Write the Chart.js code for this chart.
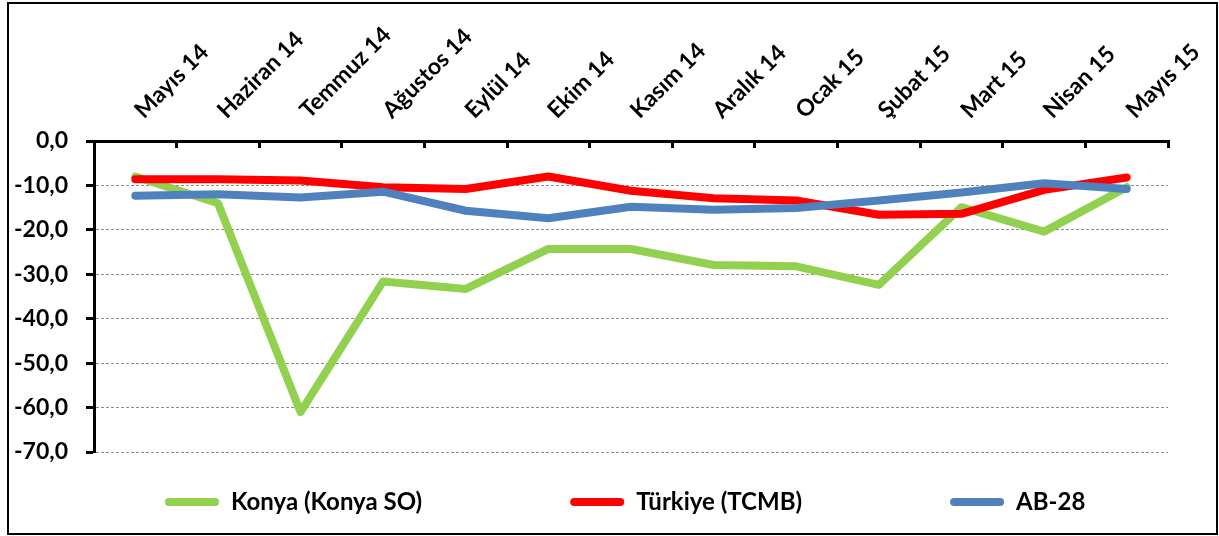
<!DOCTYPE html>
<html>
<head>
<meta charset="utf-8">
<script src="https://cdn.jsdelivr.net/npm/chart.js@4.4.1/dist/chart.umd.min.js"></script>
<style>
  html, body { margin: 0; padding: 0; background: #fff; }
  #wrap { position: relative; width: 1219px; height: 536px; }
  #frame { position: absolute; left: 7px; top: 2px; width: 1211px; height: 533px; border: 2px solid #000; box-sizing: border-box; pointer-events: none; }
  canvas { display: block; }
</style>
</head>
<body>
<div id="wrap">
  <canvas id="c" width="1219" height="536"></canvas>
  <div id="frame"></div>
</div>
<script>
const categories = ['Mayıs 14','Haziran 14','Temmuz 14','Ağustos 14','Eylül 14','Ekim 14','Kasım 14','Aralık 14','Ocak 15','Şubat 15','Mart 15','Nisan 15','Mayıs 15'];
const seriesNames = ['Konya (Konya SO)', 'Türkiye (TCMB)', 'AB-28'];
const konya   = [-8.0, -14.0, -61.0, -31.6, -33.3, -24.3, -24.3, -27.9, -28.2, -32.4, -14.9, -20.4, -10.4];
const turkiye = [-8.6, -8.6, -8.9, -10.4, -10.8, -8.0, -11.2, -12.9, -13.4, -16.6, -16.4, -11.0, -8.2];
const ab28    = [-12.3, -12.0, -12.7, -11.4, -15.7, -17.4, -14.8, -15.5, -15.1, -13.4, -11.6, -9.5, -10.8];
const yMin = -70, yMax = 0, yStep = 10;

const FONT = 'Lato, "Open Sans", sans-serif';
Chart.defaults.font.family = FONT;
Chart.defaults.font.weight = 'bold';
Chart.defaults.color = '#000';

const LEGEND_PAD = 148;
const LEGEND_FONT = 24;

const legendShift = {
  id: 'legendShift',
  afterLayout(chart) {
    const lg = chart.legend;
    if (!lg) return;
    lg.left = 165 - LEGEND_PAD;
    lg.right = 2000;
    lg.top = 502 - LEGEND_PAD - LEGEND_FONT / 2;
  }
};

function ds(label, data, color, order) {
  return {
    label, data,
    borderColor: color, backgroundColor: color,
    borderWidth: 8, pointRadius: 0, pointHoverRadius: 0,
    tension: 0, borderCapStyle: 'round', borderJoinStyle: 'round',
    order
  };
}

new Chart(document.getElementById('c'), {
  type: 'line',
  data: {
    labels: categories,
    datasets: [
      ds(seriesNames[0], konya, '#92D050', 2),
      ds(seriesNames[1], turkiye, '#FF0000', 1),
      ds(seriesNames[2], ab28, '#4F81BD', 0)
    ]
  },
  options: {
    responsive: false,
    animation: false,
    devicePixelRatio: 1,
    layout: { padding: { left: 0, right: 0, top: 0, bottom: 0 } },
    plugins: {
      tooltip: { enabled: false },
      legend: {
        position: 'bottom',
        align: 'start',
        maxHeight: 84,
        labels: {
          font: { size: LEGEND_FONT, weight: 'bold' },
          color: '#000',
          boxWidth: 54,
          boxHeight: 8,
          useBorderRadius: true,
          borderRadius: 4,
          padding: LEGEND_PAD,
          generateLabels(chart) {
            const items = Chart.defaults.plugins.legend.labels.generateLabels(chart);
            items.forEach(it => { it.lineWidth = 0; });
            items.sort((a, b) => a.datasetIndex - b.datasetIndex);
            return items;
          }
        }
      }
    },
    scales: {
      x: {
        position: 'top',
        offset: true,
        grid: { offset: true, drawOnChartArea: false, drawTicks: true, tickLength: -7, tickWidth: 3, tickColor: '#000' },
        border: { display: true, color: '#000', width: 3 },
        ticks: {
          autoSkip: false, minRotation: 45, maxRotation: 45,
          padding: 24, labelOffset: 23,
          color: '#000', font: { size: 23, weight: 'bold' }
        },
        afterFit(s) { s.height = 141; }
      },
      y: {
        position: 'left',
        min: yMin, max: yMax,
        grid: { color: '#8c8c8c', lineWidth: 1, drawTicks: true, tickLength: 8, tickWidth: 3, tickColor: '#000', tickBorderDash: [] },
        border: { display: true, color: '#000', width: 3, dash: [3, 2] },
        ticks: {
          stepSize: yStep, padding: 18, color: '#000',
          font: { size: 23, weight: 'bold' },
          callback: v => v.toFixed(1).replace('.', ',')
        },
        afterFit(s) { s.width = 94; }
      },
      yR: {
        type: 'linear',
        position: 'right',
        display: true,
        grid: { display: false, drawTicks: false },
        border: { display: false },
        ticks: { display: false },
        afterFit(s) { s.width = 51; }
      }
    }
  },
  plugins: [legendShift]
});
</script>
</body>
</html>
